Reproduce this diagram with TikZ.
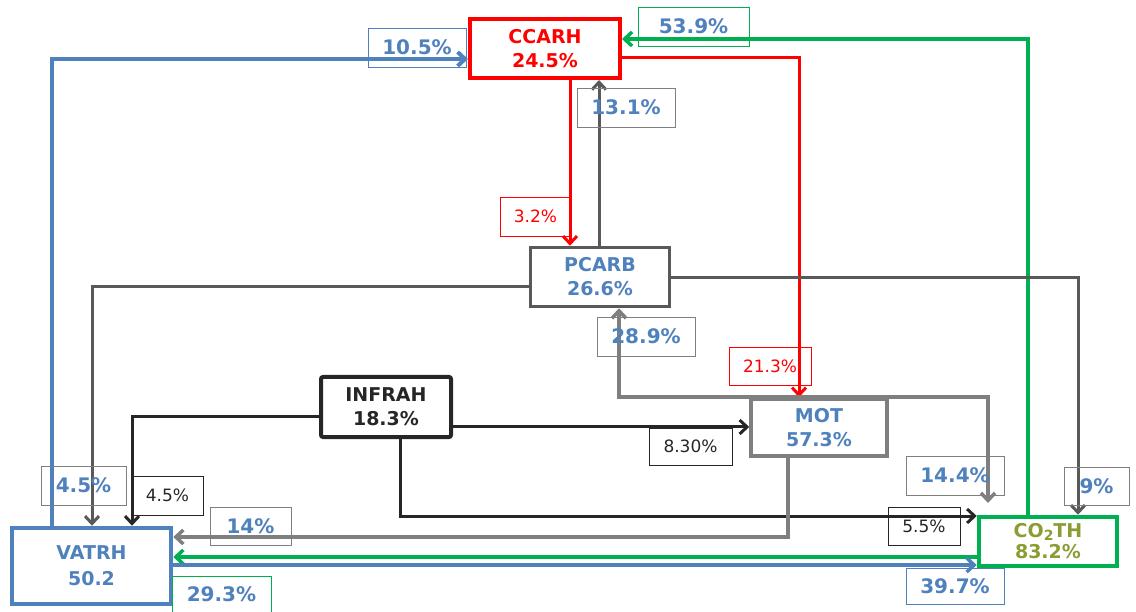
\documentclass[tikz,border=0pt]{standalone}
\usepackage{fontspec}
\setmainfont{DejaVu Sans}
\usetikzlibrary{arrows.meta}
\definecolor{cblue}{RGB}{79,129,189}
\definecolor{cgreen}{RGB}{0,176,80}
\definecolor{cdgray}{RGB}{89,89,89}
\definecolor{cgray}{RGB}{127,127,127}
\definecolor{cblack}{RGB}{38,38,38}
\definecolor{colive}{RGB}{140,155,50}
\begin{document}
\begin{tikzpicture}[x=1pt,y=-1pt,
  nd/.style={align=center, inner sep=0pt, font=\fontsize{19}{24}\selectfont\bfseries},
  lab/.style={draw, line width=0.9pt, inner sep=0pt, font=\fontsize{20}{24}\selectfont\bfseries, text=cblue},
  slab/.style={draw, line width=0.9pt, inner sep=0pt, font=\fontsize{17}{20}\selectfont},
  arr/.style={-{Straight Barb[length=7.5pt,width=14pt]}}
]
\useasboundingbox (0,0) rectangle (1136,612);

% main nodes
\node[nd, draw=red, line width=4pt, text=red, minimum width=150pt, minimum height=59pt] (ccarh) at (545,48.5) {CCARH\\24.5\%};
\node[nd, draw=cdgray, line width=3.5pt, text=cblue, minimum width=139pt, minimum height=59pt] (pcarb) at (600,277) {PCARB\\26.6\%};
\node[nd, draw=cblack, line width=4pt, rounded corners=2pt, text=cblack, minimum width=130pt, minimum height=60pt] (infrah) at (386,407) {INFRAH\\18.3\%};
\node[nd, draw=cgray, line width=3.5pt, text=cblue, minimum width=136pt, minimum height=57pt] (mot) at (819,427.5) {MOT\\57.3\%};
\node[nd, draw=cblue, line width=4.5pt, text=cblue, minimum width=159pt, minimum height=76pt, font=\fontsize{19}{26}\selectfont\bfseries] (vatrh) at (91.5,566) {VATRH\\50.2};
\node[nd, draw=cgreen, line width=4.5pt, text=colive, minimum width=138pt, minimum height=49pt, font=\fontsize{19}{21}\selectfont\bfseries] (co2th) at (1048,541.5) {CO\raisebox{-3pt}{\fontsize{14}{14}\selectfont 2}TH\\83.2\%};

% bend coordinates
\coordinate (b1) at (52,59);
\coordinate (b2) at (1028,39);
\coordinate (b3) at (799,58);
\coordinate (b4) at (570,0);
\coordinate (b5) at (599,0);
\coordinate (b6) at (92,287);
\coordinate (b7) at (1078,278);
\coordinate (b8) at (132,417);
\coordinate (b9) at (0,427);
\coordinate (b10) at (400,516);
\coordinate (b11) at (619,0);
\coordinate (b12) at (988,503);
\coordinate (b13) at (788,537);
\coordinate (b14) at (0,557);
\coordinate (b15) at (0,565);

% connectors
\draw[arr, cblue, line width=4pt] (vatrh.north -| b1) -- (b1) -- (ccarh.west |- b1);
\draw[arr, cgreen, line width=3.5pt] (co2th.north -| b2) -- (b2) -- (ccarh.east |- b2);
\draw[arr, red, line width=3pt] (ccarh.east |- b3) -- (b3) -- (mot.north -| b3);
\draw[arr, red, line width=3pt] (ccarh.south -| b4) -- (pcarb.north -| b4);
\draw[arr, cdgray, line width=3pt] (pcarb.north -| b5) -- (ccarh.south -| b5);
\draw[arr, cdgray, line width=3pt] (pcarb.west |- b6) -- (b6) -- (vatrh.north -| b6);
\draw[arr, cdgray, line width=3pt] (pcarb.east |- b7) -- (b7) -- (co2th.north -| b7);
\draw[arr, cblack, line width=3pt] (infrah.west |- b8) -- (b8) -- (vatrh.north -| b8);
\draw[arr, cblack, line width=3pt] (infrah.east |- b9) -- (mot.west |- b9);
\draw[arr, cblack, line width=3pt] (infrah.south -| b10) -- (b10) -- (co2th.west |- b10);
\draw[arr, cgray, line width=3.5pt] (mot.north) -- (mot.north -| b11) -- (pcarb.south -| b11);
\draw[arr, cgray, line width=3.5pt] (mot.north) -- (mot.north -| b12) -- (b12);
\draw[arr, cgray, line width=3.5pt] (mot.south -| b13) -- (b13) -- (vatrh.east |- b13);
\draw[arr, cgreen, line width=3.5pt] (co2th.west |- b14) -- (vatrh.east |- b14);
\draw[arr, cblue, line width=3.5pt] (vatrh.east |- b15) -- (co2th.west |- b15);

% labels
\node[lab, draw=cblue, minimum width=98pt, minimum height=39pt] (l105) at (417,47.5) {10.5\%};
\node[lab, draw=cgreen, minimum width=111pt, minimum height=39pt] (l539) at (693.5,26.5) {53.9\%\hspace{10pt}};
\node[lab, draw=cgray, minimum width=98pt, minimum height=39pt] (l131) at (626,107.5) {13.1\%};
\node[slab, draw=red, text=red, minimum width=71pt, minimum height=39pt] (l32) at (535.5,216.5) {3.2\%};
\node[lab, draw=cgray, minimum width=98pt, minimum height=39pt] (l289) at (646,336.5) {28.9\%};
\node[slab, draw=red, text=red, minimum width=82pt, minimum height=38pt] (l213) at (770,366) {21.3\%};
\node[slab, draw=cblack, text=cblack, minimum width=83pt, minimum height=37pt] (l830) at (690.5,446.5) {8.30\%};
\node[lab, draw=cgray, minimum width=98pt, minimum height=39pt] (l144) at (955,475.5) {14.4\%};
\node[lab, draw=cgray, minimum width=65pt, minimum height=38pt] (l9) at (1096.5,486) {9\%};
\node[slab, draw=cblack, text=cblack, minimum width=72pt, minimum height=38pt] (l55) at (924,526) {5.5\%};
\node[lab, draw=cblue, minimum width=98pt, minimum height=36pt] (l397) at (955,586) {39.7\%};
\node[lab, draw=cgray, minimum width=85pt, minimum height=39pt] (l45a) at (83.5,485.5) {4.5\%};
\node[slab, draw=cblack, text=cblack, minimum width=71pt, minimum height=39pt] (l45b) at (167.5,495.5) {4.5\%};
\node[lab, draw=cgray, minimum width=81pt, minimum height=38pt] (l14) at (250.5,526) {14\%};
\node[lab, draw=cgreen, minimum width=99pt, minimum height=37pt] (l293) at (221.5,594.5) {29.3\%};
\end{tikzpicture}
\end{document}
